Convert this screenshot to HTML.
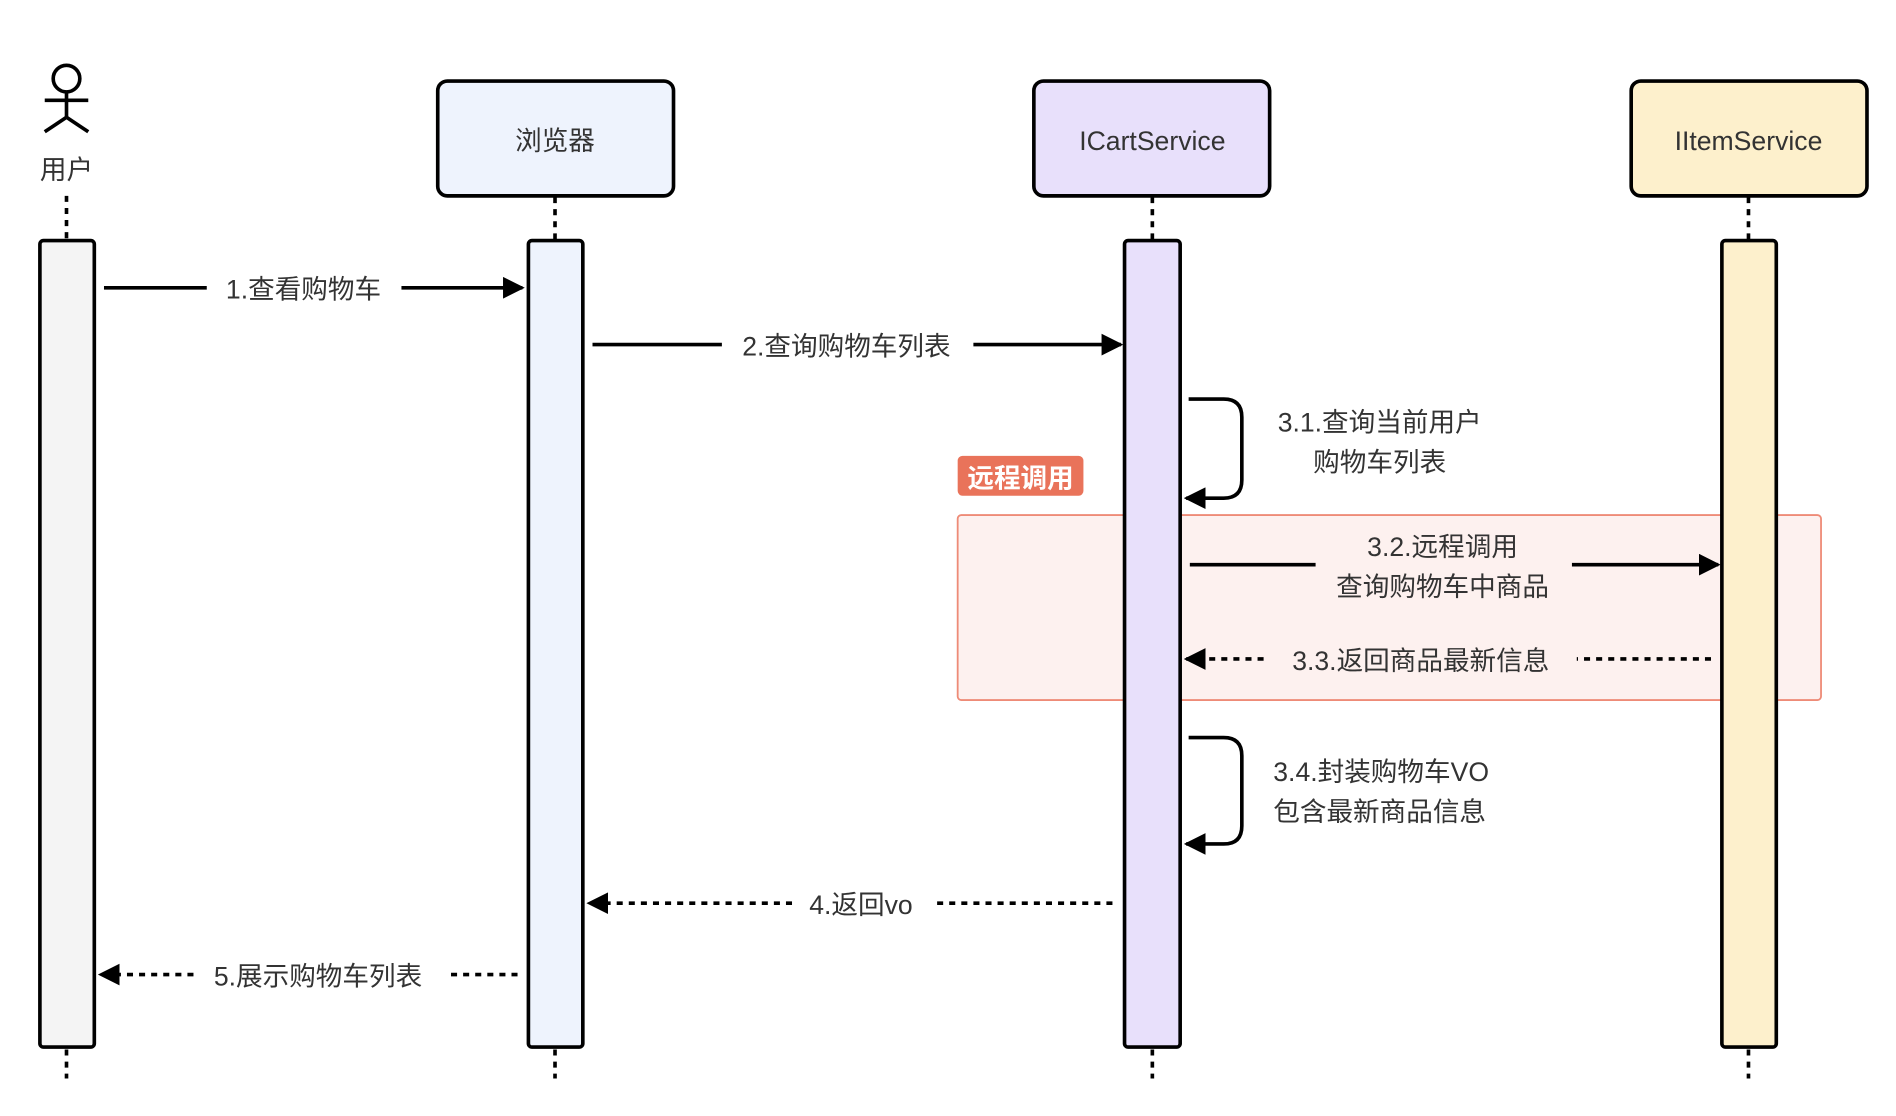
<!DOCTYPE html>
<html><head><meta charset="utf-8"><style>
html,body{margin:0;padding:0;background:#fff;}
svg{display:block;}
text{font-family:"Liberation Sans","Noto Sans CJK SC",sans-serif;fill:#333;font-size:22px;}
</style></head><body>
<svg width="1896" height="1116" viewBox="0 0 1568 923" preserveAspectRatio="none" xmlns="http://www.w3.org/2000/svg">
<defs>
<marker id="ah2" markerWidth="18" markerHeight="18" refX="16" refY="9" orient="auto" markerUnits="userSpaceOnUse" viewBox="0 0 18 18">
<path d="M0,0 L18,9 L0,18 z" fill="#000"/></marker>
</defs>
<g stroke="#000" stroke-width="3" fill="none">
<circle cx="55" cy="65" r="11"/>
<line x1="55" y1="76" x2="55" y2="97"/>
<line x1="37" y1="83" x2="73" y2="83"/>
<line x1="55" y1="97" x2="37" y2="109"/>
<line x1="55" y1="97" x2="73" y2="109"/>
</g>
<text x="55" y="148" text-anchor="middle">用户</text>
<g stroke="#000" stroke-width="3" stroke-dasharray="5,5">
<line x1="55" y1="162" x2="55" y2="198"/><line x1="55" y1="868" x2="55" y2="892"/>
<line x1="459" y1="163" x2="459" y2="198"/><line x1="459" y1="868" x2="459" y2="892"/>
<line x1="953" y1="163" x2="953" y2="198"/><line x1="953" y1="868" x2="953" y2="892"/>
<line x1="1446" y1="163" x2="1446" y2="198"/><line x1="1446" y1="868" x2="1446" y2="892"/>
</g>
<rect x="362" y="67" width="195" height="95" rx="8" fill="#EEF3FD" stroke="#000" stroke-width="3"/>
<text x="459" y="124" text-anchor="middle" font-size="23">浏览器</text>
<rect x="855" y="67" width="195" height="95" rx="8" fill="#E8E0FB" stroke="#000" stroke-width="3"/>
<text x="953" y="124" text-anchor="middle" font-size="24">ICartService</text>
<rect x="1349" y="67" width="195" height="95" rx="8" fill="#FDF0CC" stroke="#000" stroke-width="3"/>
<text x="1446" y="124" text-anchor="middle" font-size="24">IItemService</text>
<rect x="792" y="426" width="714" height="153" rx="3" fill="#FDF1EF" stroke="#EE8B77" stroke-width="1.5"/>
<rect x="792" y="377" width="104" height="33" rx="4" fill="#E9735A"/>
<text x="844" y="403" text-anchor="middle" font-weight="bold" style="fill:#fff" font-size="22">远程调用</text>
<rect x="33" y="199" width="45" height="667" rx="3" fill="#F4F4F4" stroke="#000" stroke-width="3"/>
<rect x="437" y="199" width="45" height="667" rx="3" fill="#EEF3FD" stroke="#000" stroke-width="3"/>
<rect x="930" y="199" width="46" height="667" rx="3" fill="#E8E0FB" stroke="#000" stroke-width="3"/>
<rect x="1424" y="199" width="45" height="667" rx="3" fill="#FDF0CC" stroke="#000" stroke-width="3"/>
<g stroke="#000" stroke-width="3" fill="none">
<line x1="86" y1="238" x2="171" y2="238"/><line x1="332" y1="238" x2="432" y2="238" marker-end="url(#ah2)"/>
<line x1="490" y1="285" x2="597" y2="285"/><line x1="805" y1="285" x2="927" y2="285" marker-end="url(#ah2)"/>
<path d="M983,330 H1012 Q1027,330 1027,345 V397 Q1027,412 1012,412 H981" marker-end="url(#ah2)"/>
<line x1="984" y1="467" x2="1088" y2="467"/><line x1="1300" y1="467" x2="1421" y2="467" marker-end="url(#ah2)"/>
<g stroke-dasharray="5,5">
<line x1="1415" y1="545" x2="1304" y2="545"/><line x1="1045" y1="545" x2="981" y2="545" marker-end="url(#ah2)"/>
<line x1="920" y1="747" x2="772" y2="747"/><line x1="655" y1="747" x2="487" y2="747" marker-end="url(#ah2)"/>
<line x1="428" y1="806" x2="369" y2="806"/><line x1="160" y1="806" x2="83" y2="806" marker-end="url(#ah2)"/>
</g>
<path d="M983,610 H1012 Q1027,610 1027,625 V683 Q1027,698 1012,698 H981" marker-end="url(#ah2)"/>
</g>
<text x="251" y="247" text-anchor="middle">1.查看购物车</text>
<text x="700" y="294" text-anchor="middle">2.查询购物车列表</text>
<text x="1141" y="357" text-anchor="middle">3.1.查询当前用户</text>
<text x="1141" y="390" text-anchor="middle">购物车列表</text>
<text x="1193" y="460" text-anchor="middle">3.2.远程调用</text>
<text x="1193" y="493" text-anchor="middle">查询购物车中商品</text>
<text x="1175" y="554" text-anchor="middle">3.3.返回商品最新信息</text>
<text x="1053" y="646">3.4.封装购物车VO</text>
<text x="1053" y="679">包含最新商品信息</text>
<text x="712" y="756" text-anchor="middle">4.返回vo</text>
<text x="263" y="815" text-anchor="middle">5.展示购物车列表</text>
</svg>
</body></html>
